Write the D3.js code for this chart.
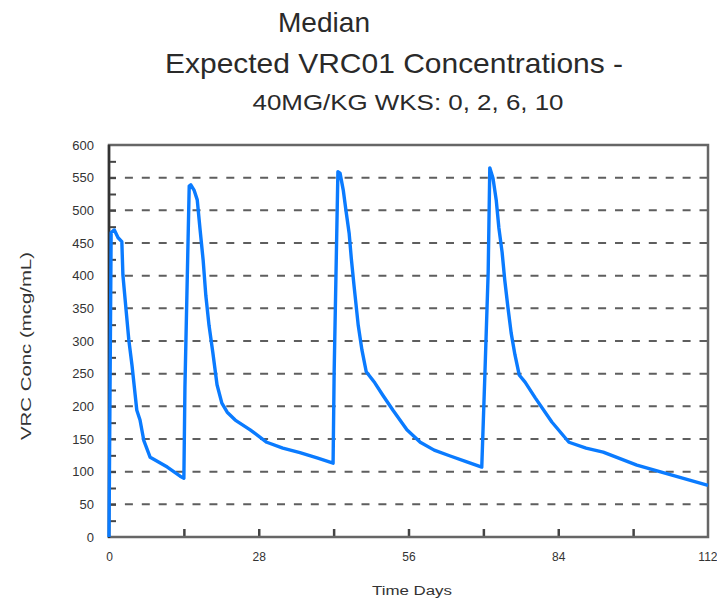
<!DOCTYPE html>
<html><head><meta charset="utf-8">
<script src="https://cdn.jsdelivr.net/npm/d3@7"></script>
<style>body{margin:0;background:#fff} svg{display:block}</style>
</head><body><svg id="c" width="717" height="598"></svg>
<script>
// ---- data ----
const days = [
  0, 0.4, 1.0, 1.7, 2.4, 2.6, 3.2, 3.7, 4.3, 4.9, 5.2, 5.8, 6.5, 7.7, 10.9, 13.3, 14.0,
  14.2, 15.0, 15.3, 15.9, 16.5, 17.0, 17.6, 18.1, 18.7, 19.4, 20.2, 21.1, 22.1, 23.6, 26.4, 29.5, 32.5, 35.7, 38.9, 41.9,
  42.1, 42.8, 43.2, 43.8, 44.3, 44.9, 45.3, 45.8, 46.2, 46.6, 47.3, 48.1, 49.7, 51.2, 53.1, 55.7, 58.2, 60.8, 63.8, 66.9, 69.7,
  70.3, 70.9, 71.2, 71.8, 72.4, 72.9, 73.5, 74.0, 74.6, 75.2, 75.9, 76.7, 77.8, 79.7, 82.8, 86.0, 89.2, 92.4, 98.7, 105.1, 112
];
const conc = [
  0, 466, 470, 458, 452, 401, 347, 302, 263, 217, 194, 179, 148, 122, 107, 93, 90,
  230, 537, 539, 531, 516, 473, 424, 370, 324, 283, 233, 205, 191, 179, 164, 145, 136, 129, 121, 113,
  253, 559, 557, 531, 500, 465, 427, 386, 355, 324, 286, 253, 236, 217, 194, 164, 145, 133, 124, 115, 107,
  253, 406, 565, 549, 516, 473, 436, 393, 351, 312, 279, 248, 237, 213, 176, 145, 136, 130, 110, 95, 79
];
const yTicks = [0, 50, 100, 150, 200, 250, 300, 350, 400, 450, 500, 550, 600];
const yGridTicks = [50, 100, 150, 200, 250, 300, 350, 400, 450, 500, 550];
const yMinorTicks = [25, 50, 75, 100, 125, 150, 175, 200, 225, 250, 275, 300, 325, 350, 375, 400, 425, 450, 475, 500, 525, 550, 575];
const xTicks = [0, 28, 56, 84, 112];
const xMinorTicks = [14, 28, 42, 56, 70, 84, 98];
const titleLines = ["Median", "Expected VRC01 Concentrations -", "40MG/KG WKS: 0, 2, 6, 10"];
const xLabel = "Time Days";
const yLabel = "VRC Conc (mcg/mL)";

// ---- drawing ----
const svg = d3.select("#c");
const font = "'Liberation Sans', Arial, Helvetica, sans-serif";
const L = 109, R = 708, T = 145, B = 537;
const x = d3.scaleLinear().domain([0, 112]).range([L, R]);
const y = d3.scaleLinear().domain([0, 600]).range([B, T]);

// titles
const titleSpec = [
  {x: 324, y: 32, size: 28, len: 92},
  {x: 394, y: 73, size: 28, len: 458},
  {x: 408, y: 110, size: 22, len: 311}
];
titleLines.forEach((t, i) => {
  const s = titleSpec[i];
  svg.append("text").attr("x", s.x).attr("y", s.y)
    .attr("text-anchor", "middle").attr("font-family", font)
    .attr("font-size", s.size).attr("fill", "#2a2a2a")
    .attr("textLength", s.len).attr("lengthAdjust", "spacingAndGlyphs")
    .text(t);
});

// gridlines
svg.append("g").selectAll("line").data(yGridTicks).join("line")
  .attr("x1", L - 1).attr("x2", R)
  .attr("y1", d => y(d)).attr("y2", d => y(d))
  .attr("stroke", "#5e5e5e").attr("stroke-width", 2)
  .attr("stroke-dasharray", "8 8.9");

// inward ticks
const yt = svg.append("g").attr("transform", `translate(${L},0)`)
  .call(d3.axisLeft(y).tickValues(yMinorTicks).tickSize(-7).tickFormat(""));
yt.select(".domain").remove();
yt.selectAll("line").attr("stroke", "#444").attr("stroke-width", 2);

const xt = svg.append("g").attr("transform", `translate(0,${B})`)
  .call(d3.axisBottom(x).tickValues(xMinorTicks).tickSize(-8).tickFormat(""));
xt.select(".domain").remove();
xt.selectAll("line").attr("stroke", "#444").attr("stroke-width", 2.5);

// frame
svg.append("rect").attr("x", L).attr("y", T).attr("width", R - L).attr("height", B - T)
  .attr("fill", "none").attr("stroke", "#666").attr("stroke-width", 2.5);
svg.append("line").attr("x1", L).attr("x2", L).attr("y1", T).attr("y2", B + 1)
  .attr("stroke", "#333").attr("stroke-width", 2.5);

// line
const line = d3.line().x((d, i) => x(days[i])).y((d, i) => y(conc[i]));
svg.append("path").datum(conc).attr("d", line)
  .attr("fill", "none").attr("stroke", "#0a7bff").attr("stroke-width", 3.4)
  .attr("stroke-linejoin", "round");

// tick labels
const yl = svg.append("g").attr("transform", `translate(94,0)`)
  .call(d3.axisLeft(y).tickValues(yTicks).tickSize(0).tickPadding(0));
yl.select(".domain").remove();
yl.selectAll("text").attr("font-family", font).attr("font-size", 13).attr("fill", "#333");

const xl = svg.append("g").attr("transform", `translate(0,552)`)
  .call(d3.axisBottom(x).tickValues(xTicks).tickSize(0).tickPadding(0));
xl.select(".domain").remove();
xl.selectAll("text").attr("font-family", font).attr("font-size", 12).attr("fill", "#333");
xl.selectAll("text").filter(d => d === 112).attr("text-anchor", "end").attr("x", 9);

// axis titles
svg.append("text").attr("x", 412).attr("y", 595).attr("text-anchor", "middle")
  .attr("font-family", font).attr("font-size", 12).attr("fill", "#333")
  .attr("textLength", 80).attr("lengthAdjust", "spacingAndGlyphs").text(xLabel);
svg.append("text").attr("transform", "translate(31,346) rotate(-90)").attr("text-anchor", "middle")
  .attr("font-family", font).attr("font-size", 14).attr("fill", "#333")
  .attr("textLength", 188).attr("lengthAdjust", "spacingAndGlyphs").text(yLabel);
</script>
</body></html>
